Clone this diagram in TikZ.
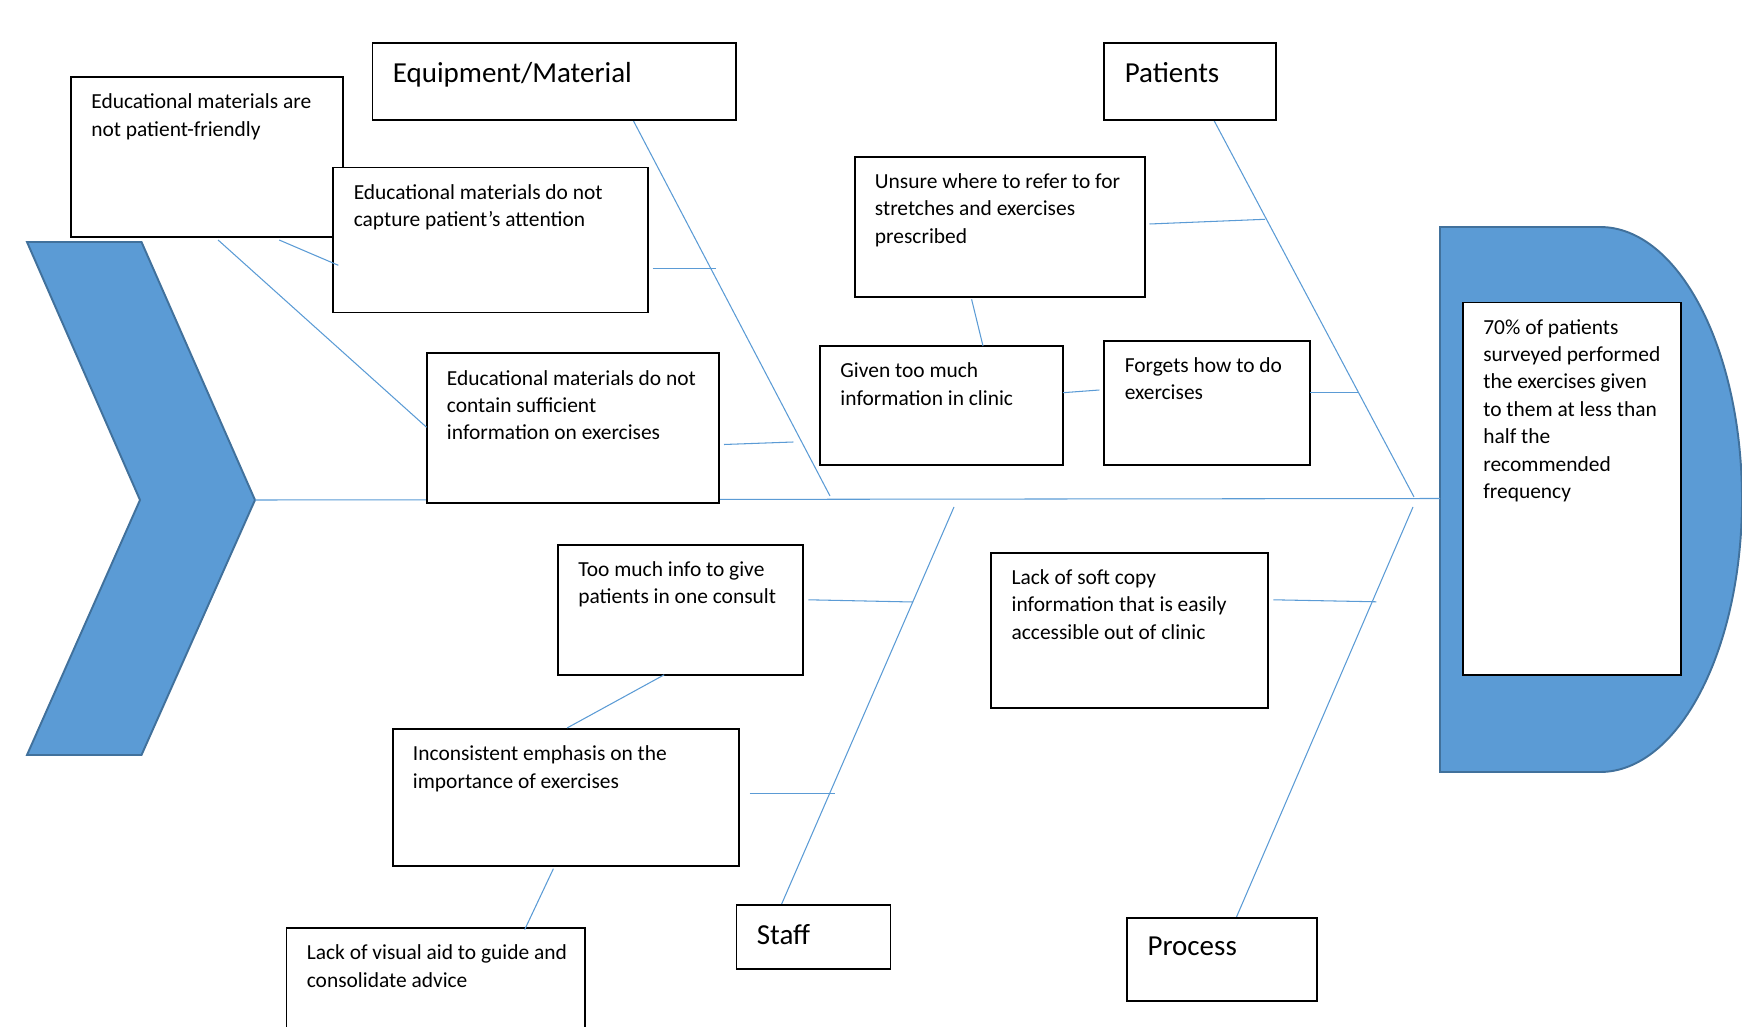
\documentclass[tikz,border=0pt]{standalone}
\usepackage{fontspec}
\setmainfont{Carlito}
\definecolor{fbblue}{HTML}{5B9BD5}
\definecolor{fbedge}{HTML}{41719C}
\tikzset{
 fb box/.style={draw=black,line width=1.1pt,fill=white,anchor=north west,
                inner sep=0pt,outer sep=0pt},
 fb text/.style={anchor=north west,align=left,inner xsep=0.4cm,inner ysep=0.33cm,
                 font=\fontsize{12.2}{15.6}\selectfont},
 fb title/.style={anchor=north west,align=left,inner xsep=0.4cm,inner ysep=0.37cm,
                  font=\fontsize{16.5}{20}\selectfont},
 fb bone/.style={fbblue,line width=0.6pt},
 fb shape/.style={fill=fbblue,draw=fbedge,line width=1.1pt,line join=miter}
}

\begin{document}
\begin{tikzpicture}[x=0.02cm,y=-0.02cm]
 \useasboundingbox (0,0) rectangle (1742,1027);
 \clip (0,0) rectangle (1742,1027);

 % tail and head
 \draw[fb shape] (27,242)--(141.5,242)--(255,500)--(141.5,755)--(27,755)--(140,500)--cycle;
 \draw[fb shape] (1440,227)--(1600,227)
   .. controls (1678.4,227) and (1742,349) .. (1742,499.5)
   .. controls (1742,650) and (1678.4,772) .. (1600,772)--(1440,772)--cycle;

 % spine and main bones
 \coordinate (tail) at (255,500);
 \coordinate (head) at (1440,498.5);
 \coordinate (eqTop) at (633,120);
 \coordinate (eqEnd) at (830,496);
 \coordinate (ptTop) at (1214,120.5);
 \coordinate (ptEnd) at (1414,497);
 \coordinate (stTop) at (954,507);
 \coordinate (stEnd) at (781,905.5);
 \coordinate (prTop) at (1413,507);
 \coordinate (prEnd) at (1236.5,917);
 \draw[fb bone] (tail)--(head);
 \draw[fb bone] (eqTop)--(eqEnd);
 \draw[fb bone] (ptTop)--(ptEnd);
 \draw[fb bone] (stTop)--(stEnd);
 \draw[fb bone] (prTop)--(prEnd);

 % categories
 \node[fb box,minimum width=7.28cm,minimum height=1.54cm,
   label={[fb title]north west:Equipment/Material}] (eqm) at (372.5,43.3) {};
 \node[fb box,minimum width=3.43cm,minimum height=1.54cm,
   label={[fb title]north west:Patients}] (patients) at (1104.4,43.3) {};
 \node[fb box,minimum width=3.08cm,minimum height=1.28cm,
   label={[fb title]north west:Staff}] (staff) at (736.5,905.4) {};
 \node[fb box,minimum width=3.80cm,minimum height=1.66cm,
   label={[fb title]north west:Process}] (process) at (1127.2,917.8) {};

 % causes
 \node[fb box,minimum width=5.45cm,minimum height=3.20cm,
   label={[fb text]north west:{Educational materials are\\not patient-friendly}}] (friendly) at (71,77) {};
 \node[fb box,minimum width=6.29cm,minimum height=2.90cm,
   label={[fb text]north west:{Educational materials do not\\capture patient’s attention}}] (attention) at (333.4,167.5) {};
 \node[fb box,minimum width=5.85cm,minimum height=3.00cm,
   label={[fb text]north west:{Educational materials do not\\contain sufficient\\information on exercises}}] (sufficient) at (426.6,353.3) {};
 \node[fb box,minimum width=5.80cm,minimum height=2.80cm,
   label={[fb text]north west:{Unsure where to refer to for\\stretches and exercises\\prescribed}}] (unsure) at (854.6,156.7) {};
 \node[fb box,minimum width=4.86cm,minimum height=2.38cm,
   label={[fb text]north west:{Given too much\\information in clinic}}] (toomuch) at (820.1,346) {};
 \node[fb box,minimum width=4.11cm,minimum height=2.49cm,
   label={[fb text]north west:{Forgets how to do\\exercises}}] (forgets) at (1104.4,340.7) {};
 \node[fb box,minimum width=4.90cm,minimum height=2.60cm,
   label={[fb text]north west:{Too much info to give\\patients in one consult}}] (consult) at (558,544.7) {};
 \node[fb box,minimum width=6.92cm,minimum height=2.74cm,
   label={[fb text]north west:{Inconsistent emphasis on the\\importance of exercises}}] (emphasis) at (392.6,728.9) {};
 \node[fb box,minimum width=5.98cm,minimum height=3.00cm,
   label={[fb text]north west:{Lack of visual aid to guide and\\consolidate advice}}] (visual) at (286.5,927.9) {};
 \node[fb box,minimum width=5.53cm,minimum height=3.11cm,
   label={[fb text]north west:{Lack of soft copy\\information that is easily\\accessible out of clinic}}] (softcopy) at (991.3,552.8) {};

 % effect
 \node[fb box,minimum width=4.36cm,minimum height=7.45cm,
   label={[fb text]north west:{70\% of patients\\surveyed performed\\the exercises given\\to them at less than\\half the\\recommended\\frequency}}] (effect) at (1463,302.5) {};

 % small bones
 \coordinate (a1) at (652.5,268.7);  \coordinate (a2) at (716.4,268.7);
 \coordinate (b1) at (724,444.5);    \coordinate (b2) at (793.3,442);
 \coordinate (c1) at (279.2,240);    \coordinate (c2) at (338.3,265.3);
 \coordinate (d1) at (218.1,240);    \coordinate (d2) at (426.6,427.3);
 \coordinate (e1) at (1149.5,224);   \coordinate (e2) at (1265,219.3);
 \coordinate (f1) at (971.6,299.3);  \coordinate (f2) at (983,346);
 \coordinate (g1) at (1063,392.7);   \coordinate (g2) at (1099.4,390);
 \coordinate (h1) at (1309.8,392.3); \coordinate (h2) at (1358,392.3);
 \coordinate (i1) at (808.3,599.8);  \coordinate (i2) at (913,602);
 \coordinate (j1) at (664.2,674.8);  \coordinate (j2) at (567.2,727.9);
 \coordinate (k1) at (749.7,793.4);  \coordinate (k2) at (835.2,793.4);
 \coordinate (l1) at (553.4,868.7);  \coordinate (l2) at (524.7,929.6);
 \coordinate (m1) at (1273.3,599.8); \coordinate (m2) at (1376.4,601.8);
 \foreach \s in {a,...,m} \draw[fb bone] (\s1)--(\s2);
\end{tikzpicture}
\end{document}
